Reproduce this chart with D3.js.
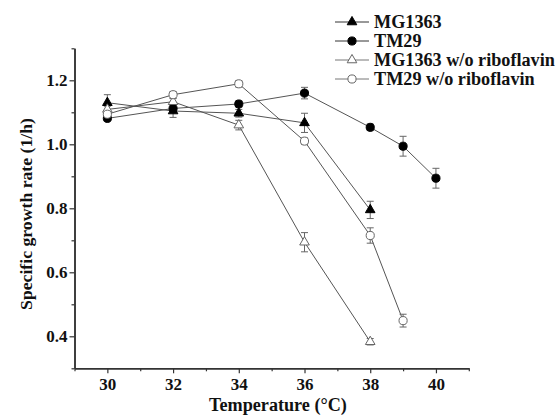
<!DOCTYPE html>
<html>
<head>
<meta charset="utf-8">
<script src="https://cdn.jsdelivr.net/npm/d3@7"></script>
<style>
  body { margin: 0; background: #fff; }
  text { font-family: "Liberation Serif", "Times New Roman", serif; font-weight: bold; fill: #111; }
</style>
</head>
<body>
<div class="chart"></div>
<script>
// ---- data ----
var seriesNames = ["MG1363", "TM29", "MG1363 w/o riboflavin", "TM29 w/o riboflavin"];

var mgTemp = [30, 32, 34, 36, 38];
var mgRate = [1.130, 1.104, 1.097, 1.067, 0.795];
var mgErr  = [0.025, 0.020, 0.012, 0.030, 0.027];

var tmTemp = [30, 32, 34, 36, 38, 39, 40];
var tmRate = [1.081, 1.112, 1.126, 1.160, 1.053, 0.994, 0.894];
var tmErr  = [0.008, 0.010, 0.010, 0.018, 0.010, 0.031, 0.031];

var mgNoRibTemp = [30, 32, 34, 36, 38];
var mgNoRibRate = [1.109, 1.133, 1.060, 0.694, 0.383];
var mgNoRibErr  = [0.010, 0.010, 0.015, 0.030, 0.010];

var tmNoRibTemp = [30, 32, 34, 36, 38, 39];
var tmNoRibRate = [1.094, 1.155, 1.189, 1.010, 0.715, 0.449];
var tmNoRibErr  = [0.010, 0.010, 0.010, 0.010, 0.024, 0.020];

var xMajor = [30, 32, 34, 36, 38, 40];
var xMinor = [29, 31, 33, 35, 37, 39, 41];
var yMajor = [0.4, 0.6, 0.8, 1.0, 1.2];
var yMinor = [0.3, 0.5, 0.7, 0.9, 1.1, 1.3];

// ---- chart space ----
var svgWidth = 556, svgHeight = 417;
var margin = { top: 48.3, right: 87.2, bottom: 48.7, left: 74.5 };
var width = svgWidth - margin.left - margin.right;
var height = svgHeight - margin.top - margin.bottom;

var svg = d3.select(".chart").append("svg")
    .attr("width", svgWidth)
    .attr("height", svgHeight);

var chartGroup = svg.append("g")
    .attr("transform", `translate(${margin.left}, ${margin.top})`);

var xScale = d3.scaleLinear().domain([29, 41]).range([0, width]);
var yScale = d3.scaleLinear().domain([0.3, 1.3]).range([height, 0]);

// scale a text's font size so that it spans the given width
function fitWidth(sel, target) {
    var w = sel.node().getComputedTextLength();
    var size = parseFloat(sel.style("font-size"));
    return size * target / w;
}

// ---- axes ----
function styleAxis(g) {
    g.selectAll("path.domain").attr("stroke", "#333").attr("stroke-width", 1.5);
    g.selectAll(".tick line").attr("stroke", "#333").attr("stroke-width", 1.2);
    g.selectAll(".tick text")
        .style("font-family", '"Liberation Serif", "Times New Roman", serif')
        .style("font-weight", "bold")
        .style("font-size", "17px")
        .attr("fill", "#111");
}

chartGroup.append("g")
    .attr("transform", `translate(0, ${height})`)
    .call(d3.axisBottom(xScale).tickValues(xMinor).tickSize(3).tickSizeOuter(0).tickFormat(""))
    .call(styleAxis);

chartGroup.append("g")
    .attr("transform", `translate(0, ${height})`)
    .call(d3.axisBottom(xScale).tickValues(xMajor).tickSize(5).tickSizeOuter(0).tickPadding(5).tickFormat(d3.format("d")))
    .call(styleAxis);

chartGroup.append("g")
    .call(d3.axisLeft(yScale).tickValues(yMinor).tickSize(3).tickSizeOuter(0).tickFormat(""))
    .call(styleAxis);

chartGroup.append("g")
    .call(d3.axisLeft(yScale).tickValues(yMajor).tickSize(5).tickSizeOuter(0).tickPadding(2).tickFormat(d3.format(".1f")))
    .call(styleAxis);

// ---- series ----
var series = [
    { name: seriesNames[0], t: mgTemp, v: mgRate, e: mgErr, shape: d3.symbolTriangle, filled: true },
    { name: seriesNames[1], t: tmTemp, v: tmRate, e: tmErr, shape: d3.symbolCircle, filled: true },
    { name: seriesNames[2], t: mgNoRibTemp, v: mgNoRibRate, e: mgNoRibErr, shape: d3.symbolTriangle, filled: false },
    { name: seriesNames[3], t: tmNoRibTemp, v: tmNoRibRate, e: tmNoRibErr, shape: d3.symbolCircle, filled: false }
];

function pointsOf(s) {
    return s.t.map(function (t, i) { return { t: t, v: s.v[i], e: s.e[i] }; });
}

var line = d3.line().x(d => xScale(d.t)).y(d => yScale(d.v));

function symbolSize(s) { return s.shape === d3.symbolCircle ? 52 : 40; }

function drawMarker(sel, s) {
    sel.append("path")
        .attr("d", d3.symbol().type(s.shape).size(symbolSize(s)))
        .attr("fill", s.filled ? "#000" : "#fff")
        .attr("stroke", s.filled ? "#000" : "#666")
        .attr("stroke-width", 1);
}

// lines first
series.forEach(function (s) {
    chartGroup.append("path")
        .datum(pointsOf(s))
        .attr("fill", "none")
        .attr("stroke", "#555")
        .attr("stroke-width", 1)
        .attr("d", line);
});

// error bars
series.forEach(function (s) {
    var eb = chartGroup.append("g").selectAll("g")
        .data(pointsOf(s))
        .enter().append("g")
        .attr("stroke", "#666")
        .attr("stroke-width", 1);
    eb.append("line")
        .attr("x1", d => xScale(d.t)).attr("x2", d => xScale(d.t))
        .attr("y1", d => yScale(d.v - d.e)).attr("y2", d => yScale(d.v + d.e));
    eb.append("line")
        .attr("x1", d => xScale(d.t) - 3.5).attr("x2", d => xScale(d.t) + 3.5)
        .attr("y1", d => yScale(d.v + d.e)).attr("y2", d => yScale(d.v + d.e));
    eb.append("line")
        .attr("x1", d => xScale(d.t) - 3.5).attr("x2", d => xScale(d.t) + 3.5)
        .attr("y1", d => yScale(d.v - d.e)).attr("y2", d => yScale(d.v - d.e));
});

// markers
series.forEach(function (s) {
    var m = chartGroup.append("g").selectAll("g")
        .data(pointsOf(s))
        .enter().append("g")
        .attr("transform", d => `translate(${xScale(d.t)}, ${yScale(d.v)})`);
    m.each(function () { drawMarker(d3.select(this), s); });
});

// ---- axis titles ----
var xTitle = svg.append("text")
    .attr("x", 278)
    .attr("y", 411)
    .attr("text-anchor", "middle")
    .style("font-size", "18px")
    .text("Temperature (\u00B0C)");
xTitle.style("font-size", fitWidth(xTitle, 138) + "px");

var yTitle = svg.append("text")
    .attr("transform", "translate(32, 214) rotate(-90)")
    .attr("text-anchor", "middle")
    .style("font-size", "18px")
    .text("Specific growth rate (1/h)");
yTitle.style("font-size", fitWidth(yTitle, 192) + "px");

// ---- legend ----
var legend = svg.append("g").selectAll("g")
    .data(series)
    .enter().append("g")
    .attr("transform", (d, i) => `translate(335, ${22 + i * 19})`);

legend.append("line")
    .attr("x1", 0).attr("x2", 34)
    .attr("stroke", d => d.filled ? "#333" : "#777")
    .attr("stroke-width", 1);

legend.each(function (s) {
    var g = d3.select(this).append("g").attr("transform", "translate(17, 0)");
    drawMarker(g, s);
});

var legendText = legend.append("text")
    .attr("x", 39)
    .attr("y", 6)
    .style("font-size", "18px")
    .text(d => d.name);
var legendSize = fitWidth(legendText.filter((d, i) => i === 2), 181);
legendText.style("font-size", legendSize + "px");
</script>
</body>
</html>
